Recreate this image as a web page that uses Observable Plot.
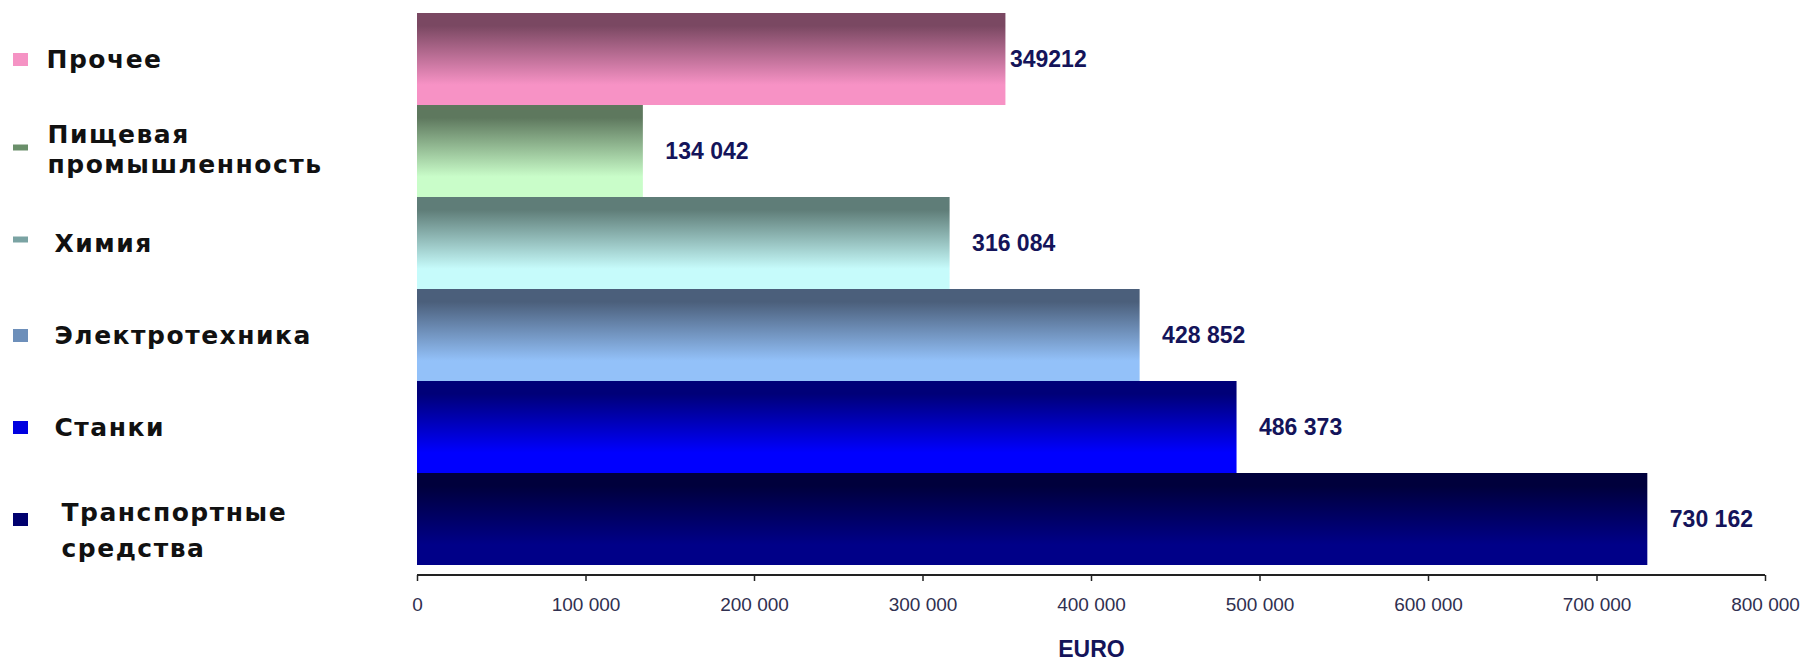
<!DOCTYPE html>
<html>
<head>
<meta charset="utf-8">
<script src="https://cdn.jsdelivr.net/npm/d3@7"></script>
<script src="https://cdn.jsdelivr.net/npm/@observablehq/plot@0.6"></script>
<style>
  html, body { margin: 0; padding: 0; background: #ffffff; }
  .legend-text text { letter-spacing: 1.5px; }
</style>
</head>
<body>
<div id="chart"></div>
<script>
// ---- data ----
const categories = ["Прочее", "Пищевая промышленность", "Химия", "Электротехника", "Станки", "Транспортные средства"];
const legendLabels = ["Прочее", "Пищевая\nпромышленность", "Химия", "Электротехника", "Станки", "Транспортные\nсредства"];
const values = [349212, 134042, 316084, 428852, 486373, 730162];
const valueLabels = ["349212", "134 042", "316 084", "428 852", "486 373", "730 162"];
const xTicks = [0, 100000, 200000, 300000, 400000, 500000, 600000, 700000, 800000];
const xTickLabels = ["0", "100 000", "200 000", "300 000", "400 000", "500 000", "600 000", "700 000", "800 000"];
const axisTitle = "EURO";

// ---- palette ----
const gradTop    = ["#7a4862", "#5e785e", "#5f7d78", "#4b5f7b", "#000078", "#00003c"];
const gradBottom = ["#f792c5", "#c9fdc9", "#c6fbfb", "#93c1f9", "#0000ff", "#000088"];
const markerColors = ["#f593c4", "#6a8f6a", "#7aa3a3", "#6d8fba", "#0000e0", "#00006e"];
const dashCats = new Set(["Пищевая промышленность", "Химия"]);

const rows = categories.map((c, i) => ({
  category: c, legend: legendLabels[i], value: values[i], label: valueLabels[i],
  grad: `url(#bar-grad-${i})`, marker: markerColors[i], i
}));

const squareSymbol = { draw(ctx) { ctx.rect(-7.5, -6.5, 15, 13); } };
const dashSymbol = { draw(ctx) { ctx.rect(-7.5, -3, 15, 6); } };

const axisLine = (index, scales, values, dims) => {
  const y = dims.height - dims.marginBottom;
  const g = d3.create("svg:g");
  g.append("line")
    .attr("x1", scales.x(xTicks[0])).attr("x2", scales.x(xTicks[xTicks.length - 1]))
    .attr("y1", y).attr("y2", y)
    .attr("stroke", "#222").attr("stroke-width", 2);
  return g.node();
};

const legendFont = {
  y: "category", text: "legend", frameAnchor: "left", textAnchor: "start",
  fontSize: 25, fontWeight: "bold", fill: "#111",
  fontFamily: "DejaVu Sans, Verdana, sans-serif", className: "legend-text"
};
const valueFont = {
  x: "value", y: "category", text: "label", textAnchor: "start",
  fontSize: 23, fontWeight: "bold", fill: "#14145a",
  fontFamily: "Liberation Sans, Arial, sans-serif"
};

const svg = Plot.plot({
  width: 1812,
  height: 661,
  marginLeft: 417,
  marginRight: 47,
  marginTop: 12,
  marginBottom: 86,
  style: { background: "white", overflow: "visible" },
  x: { domain: [xTicks[0], xTicks[xTicks.length - 1]] },
  y: { domain: categories, padding: 0, insetBottom: 9, axis: null },
  color: { type: "identity" },
  marks: [
    Plot.barX(rows, { x: "value", y: "category", fill: "grad" }),
    axisLine,
    Plot.axisX({
      ticks: xTicks,
      tickFormat: d => xTickLabels[xTicks.indexOf(d)],
      tickSize: 6,
      tickPadding: 16,
      strokeWidth: 1.5,
      stroke: "#222",
      fill: "#303050",
      fontSize: 19,
      fontFamily: "Liberation Sans, Arial, sans-serif",
      label: null
    }),
    Plot.text([axisTitle], {
      frameAnchor: "bottom", dy: 74, text: d => d,
      fontSize: 23, fontWeight: "bold", fill: "#14145a",
      fontFamily: "Liberation Sans, Arial, sans-serif", lineAnchor: "middle"
    }),
    // value labels
    Plot.text(rows.filter(d => d.i === 0), { ...valueFont, dx: 4 }),
    Plot.text(rows.filter(d => d.i > 0), { ...valueFont, dx: 22 }),
    // legend markers
    Plot.dot(rows.filter(d => !dashCats.has(d.category)), {
      y: "category", frameAnchor: "left", dx: -397, symbol: squareSymbol, fill: "marker", r: 7
    }),
    Plot.dot(rows.filter(d => dashCats.has(d.category)), {
      y: "category", frameAnchor: "left", dx: -397, dy: -4, symbol: dashSymbol, fill: "marker", r: 7
    }),
    // legend labels
    Plot.text(rows.filter(d => d.i === 0), { ...legendFont, dx: -371 }),
    Plot.text(rows.filter(d => d.i === 1), { ...legendFont, dx: -370, dy: -3, lineHeight: 1.18 }),
    Plot.text(rows.filter(d => d.i >= 2 && d.i <= 4), { ...legendFont, dx: -363 }),
    Plot.text(rows.filter(d => d.i === 5), { ...legendFont, dx: -356, dy: 8, lineHeight: 1.42 })
  ]
});

// gradient definitions used by the bar fills
const defs = d3.select(svg).insert("defs", ":first-child");
categories.forEach((c, i) => {
  const lg = defs.append("linearGradient")
    .attr("id", `bar-grad-${i}`).attr("x1", 0).attr("y1", 0).attr("x2", 0).attr("y2", 1);
  lg.append("stop").attr("offset", "0%").attr("stop-color", gradTop[i]);
  lg.append("stop").attr("offset", "14%").attr("stop-color", gradTop[i]);
  lg.append("stop").attr("offset", "78%").attr("stop-color", gradBottom[i]);
  lg.append("stop").attr("offset", "100%").attr("stop-color", gradBottom[i]);
});

document.getElementById("chart").appendChild(svg);
</script>
</body>
</html>
